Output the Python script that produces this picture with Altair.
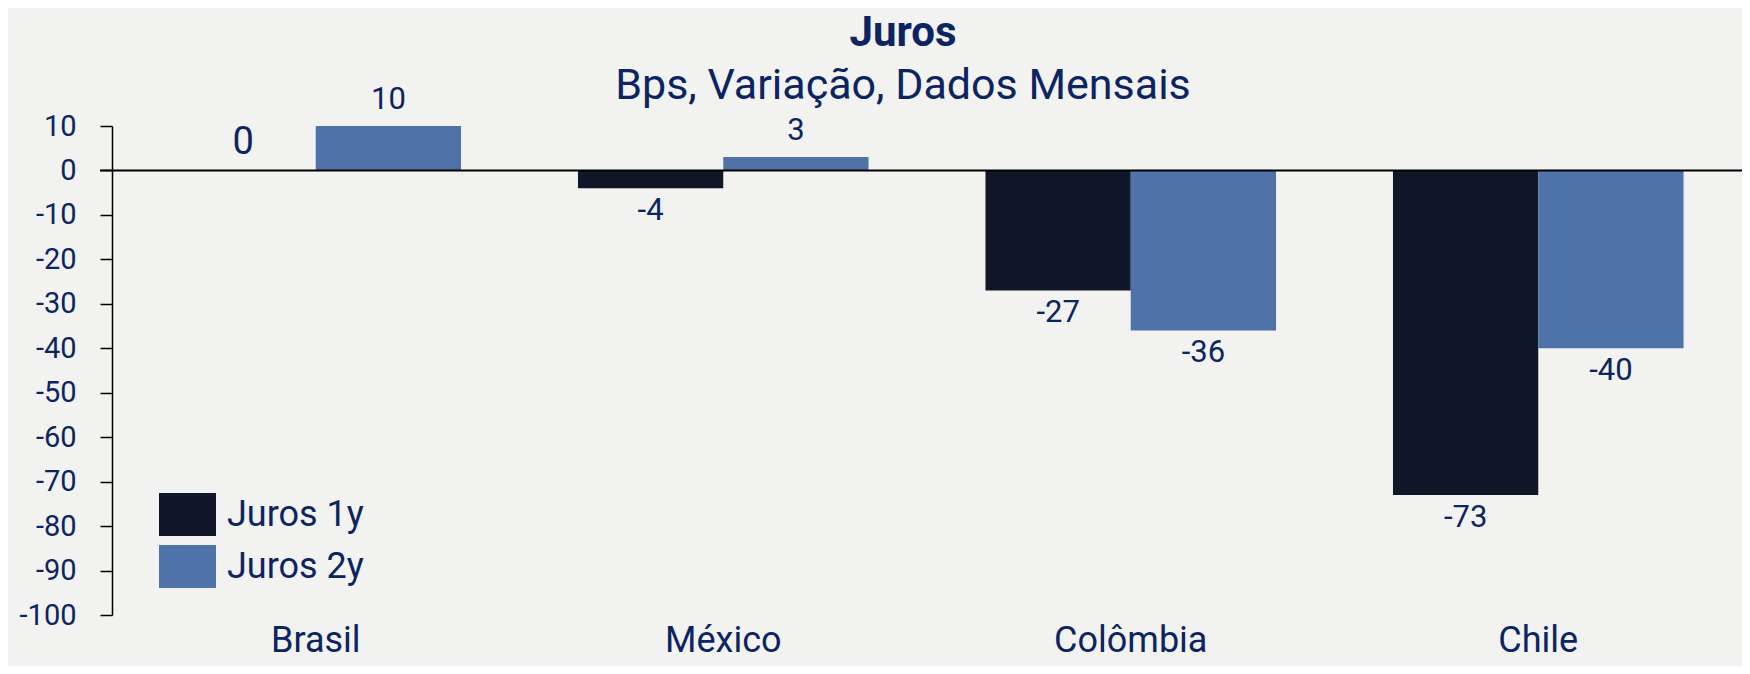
import altair as alt
import pandas as pd

categories = ["Brasil", "México", "Colômbia", "Chile"]
series = ["Juros 1y", "Juros 2y"]
juros_1y = [0, -4, -27, -73]
juros_2y = [10, 3, -36, -40]
y_ticks = list(range(-100, 11, 10))

rows = []
for i, c in enumerate(categories):
    rows.append({"pais": c, "serie": series[0], "valor": juros_1y[i]})
    rows.append({"pais": c, "serie": series[1], "valor": juros_2y[i]})
df = pd.DataFrame(rows)

FONT = "Roboto"
NAVY = "#0B2462"
W, H = 1630, 489

x_enc = alt.X("pais:N", sort=categories,
              scale=alt.Scale(paddingInner=0.287, paddingOuter=0.1435),
              axis=alt.Axis(title=None, labelAngle=0, domain=False, ticks=False,
                            labelFontSize=36, labelPadding=8, labelColor=NAVY, labelFont=FONT))
xo = alt.XOffset("serie:N", sort=series, scale=alt.Scale(paddingInner=0, paddingOuter=0))
y_scale = alt.Scale(domain=[-100, 10], nice=False, zero=False)

base = alt.Chart(df).transform_calculate(rotulo="'' + datum.valor")

bars = base.mark_bar().encode(
    x=x_enc,
    xOffset=xo,
    y=alt.Y("valor:Q", scale=y_scale,
            axis=alt.Axis(title=None, values=y_ticks, grid=False, domainColor="#000000",
                          domainWidth=1.5, tickColor="#000000", tickSize=12, tickWidth=1.5,
                          labelExpr="'' + datum.value",
                          labelFontSize=29, labelColor=NAVY, labelPadding=24, labelFont=FONT)),
    y2=alt.datum(0),
    color=alt.Color("serie:N", sort=series,
                    scale=alt.Scale(domain=series, range=["#0F1729", "#4F72A8"]),
                    legend=alt.Legend(title=None, orient="none", legendX=47, legendY=360,
                                      symbolType="M-1,-0.754H1V0.754H-1Z", symbolSize=3249,
                                      symbolStrokeWidth=0, labelFontSize=36,
                                      labelColor=NAVY, labelFont=FONT, labelOffset=11,
                                      rowPadding=2, padding=0)),
)

zero_rule = alt.Chart(pd.DataFrame({"v": [0]})).mark_rule(
    color="#000000", strokeWidth=2
).encode(y=alt.Y("v:Q", scale=y_scale), x=alt.value(-12), x2=alt.value(W))

pos_labels = base.transform_filter("datum.valor > 0").mark_text(
    baseline="bottom", dy=-10, fontSize=31, color=NAVY, font=FONT
).encode(x=alt.X("pais:N", sort=categories), xOffset=xo,
         y=alt.Y("valor:Q", scale=y_scale), text="rotulo:N")

zero_labels = base.transform_filter("datum.valor == 0").mark_text(
    baseline="bottom", dy=-8, fontSize=38, color=NAVY, font=FONT
).encode(x=alt.X("pais:N", sort=categories), xOffset=xo,
         y=alt.Y("valor:Q", scale=y_scale), text="rotulo:N")

neg_labels = base.transform_filter("datum.valor < 0").mark_text(
    baseline="top", dy=8, fontSize=31, color=NAVY, font=FONT
).encode(x=alt.X("pais:N", sort=categories), xOffset=xo,
         y=alt.Y("valor:Q", scale=y_scale), text="rotulo:N")

chart = alt.layer(bars, zero_rule, pos_labels, zero_labels, neg_labels).properties(
    width=W, height=H,
    autosize=alt.AutoSizeParams(type="none"),
    padding={"left": 104, "top": 118, "right": 0, "bottom": 51},
    background="#F2F2F0",
    title=alt.TitleParams(text="Juros", subtitle="Bps, Variação, Dados Mensais",
                          anchor="middle", dx=-24, fontSize=42, fontWeight="bold",
                          font=FONT, color=NAVY, subtitleFont=FONT, subtitleFontSize=43,
                          subtitleColor=NAVY, subtitlePadding=10, offset=-25),
).configure_view(stroke=None)

chart.save("out.html", embed_options={"renderer": "svg", "actions": False})
